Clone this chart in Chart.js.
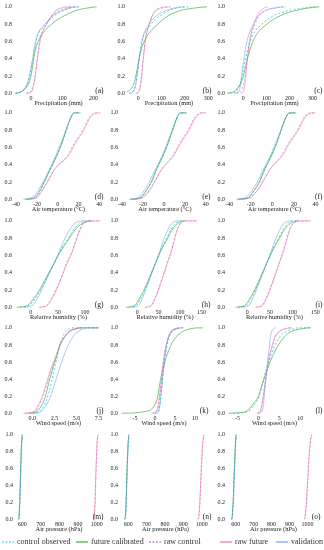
<!DOCTYPE html>
<html>
<head>
<meta charset="utf-8">
<script src="https://cdn.jsdelivr.net/npm/chart.js@4.4.1/dist/chart.umd.min.js"></script>
<style>
  body { margin: 0; background: #fff; }
  #wrap { position: relative; width: 324px; height: 550px; overflow: hidden; font-family: "Liberation Serif", "Times New Roman", serif; }
  #wrap canvas { position: absolute; }
  .leg { position: absolute; top: 536px; font-size: 8px; color: #333; white-space: nowrap; line-height: 12px; }
  .leg svg { vertical-align: middle; margin-right: 3px; }
</style>
</head>
<body>
<div id="wrap"></div>
<script>
const levels = [0, 0.02, 0.1, 0.2, 0.35, 0.5, 0.65, 0.8, 0.9, 0.96, 0.99, 1, 1];

const panelLabels = ["(a)", "(b)", "(c)", "(d)", "(e)", "(f)", "(g)", "(h)", "(i)", "(j)", "(k)", "(l)", "(m)", "(n)", "(o)"];
const xTitles = [
  "Precipitation (mm)", "Precipitation (mm)", "Precipitation (mm)",
  "Air temperature (°C)", "Air temperature (°C)", "Air temperature (°C)",
  "Relative humidity (%)", "Relative humidity (%)", "Relative humidity (%)",
  "Wind speed (m/s)", "Wind speed (m/s)", "Wind speed (m/s)",
  "Air pressure (hPa)", "Air pressure (hPa)", "Air pressure (hPa)"
];
const xTicks = [
  ["0", "100", "200"], ["0", "100", "200", "300"], ["0", "100", "200", "300"],
  ["-40", "-20", "0", "20", "40"], ["-40", "-20", "0", "20", "40"], ["-40", "-20", "0", "20", "40"],
  ["0", "50", "100"], ["0", "50", "100", "150"], ["0", "50", "100", "150"],
  ["0.0", "2.5", "5.0", "7.5"], ["-5", "0", "5", "10"], ["-5", "0", "5", "10"],
  ["600", "700", "800", "900", "1000"], ["600", "700", "800", "900", "1000"], ["600", "700", "800", "900", "1000"]
];
const yTicks = ["0.0", "0.2", "0.4", "0.6", "0.8", "1.0"];
const xMins = [-54, -48, -71, -42, -42, -42, -31, -40, -45, -2.07, -8.75, -7.5, 561, 555, 551];
const xMaxs = [230, 312, 341, 43.5, 44, 46, 133, 170, 165, 8.0, 13.25, 15.2, 1034, 1051, 1070];

const controlObserved = [
  [-48, -30, -12, -4, 4, 11, 20, 48, 75, 105, 130, 150, 160],
  [-40, -24, -11, -5, 2, 10, 22, 55, 95, 135, 170, 200, 215],
  [-60, -32, -15, -6, 6, 18, 36, 80, 132, 200, 270, 305, 315],
  [-30, -23, -17, -13, -7, -1, 4, 8.5, 11, 13, 14.5, 16, 21],
  [-31, -23, -17, -12, -7, -1, 4, 8.5, 11, 13, 14.5, 16, 21],
  [-31, -23, -17, -12, -7, -1, 4, 8.5, 11, 13, 14.5, 16, 21],
  [-20, -3, 8, 18, 30, 42, 54, 69, 79, 87, 95, 100, 108],
  [-20, -3, 8, 18, 30, 42, 54, 69, 79, 87, 95, 100, 108],
  [-20, -3, 8, 18, 30, 42, 54, 69, 79, 87, 95, 100, 108],
  [0, 0.8, 1.4, 1.75, 2.15, 2.45, 2.8, 3.1, 3.45, 3.8, 4.2, 4.5, 7.5],
  [0, 0.8, 1.2, 1.45, 1.8, 2.1, 2.5, 3.0, 3.6, 4.3, 5.5, 6.3, 7],
  [-6, -2.5, -1, 0.2, 1.0, 1.8, 2.8, 4.0, 5.2, 6.8, 8.5, 9.5, 12.5],
  [580, 583, 585, 587, 589, 591, 593, 595, 597, 599, 600, 601, 601],
  [581, 584, 587, 589, 591, 593, 595, 598, 600, 602, 603, 604, 604],
  [577, 580, 583, 586, 589, 591, 594, 597, 599, 601, 602, 602, 602]
];
const futureCalibrated = [
  [-50, -30, -9, 0, 7, 14, 30, 66, 108, 145, 185, 205, 210],
  [-85, -45, -20, -10, 0, 12, 35, 84, 130, 185, 250, 290, 295],
  [-73, -40, -15, 0, 13, 28, 50, 102, 161, 230, 290, 325, 330],
  [-31, -22, -17, -13, -7, -1, 4, 8, 11, 13, 14.5, 16, 22],
  [-32, -22, -17, -12, -7, -1, 4, 8, 11, 13, 14.5, 16, 22],
  [-32, -22, -17, -12, -7, -1, 4, 8, 11, 13, 14.5, 16, 22],
  [-26, -6, 5, 16, 29, 42, 55, 71, 82, 92, 102, 109, 112],
  [-26, -6, 5, 16, 29, 42, 55, 71, 82, 92, 102, 109, 112],
  [-26, -6, 5, 16, 29, 42, 55, 71, 82, 92, 102, 109, 112],
  [-0.5, 0.5, 1.1, 1.5, 1.85, 2.25, 2.7, 3.15, 3.7, 4.2, 5.0, 5.4, 7.5],
  [-8.3, -2.5, 0, 0.7, 1.2, 1.9, 2.8, 4.0, 5.4, 7.0, 9.0, 10.4, 12],
  [-7.1, -3, -1.4, 0, 1.0, 2.0, 3.2, 4.8, 6.3, 8, 10.5, 11.9, 12.5],
  [579, 582, 584, 586, 588, 590, 592, 594, 596, 598, 599, 600, 600],
  [580, 583, 586, 588, 590, 592, 594, 597, 599, 601, 602, 603, 603],
  [576, 579, 582, 585, 588, 590, 593, 596, 598, 600, 601, 602, 602]
];
const rawControl = [
  [-15, 0, 8, 13, 18, 23, 30, 50, 68, 88, 115, 135, 145],
  [-8, 2, 10, 14, 19, 25, 32, 48, 62, 80, 110, 140, 150],
  [-30, -10, 0, 8, 15, 22, 32, 50, 70, 100, 150, 175, 185],
  [-28, -21, -15, -10, -3, 9, 16, 24, 28, 31, 34, 36, 40],
  [-29, -21, -14, -9, -2, 8, 15, 23, 27, 30, 33, 35, 39],
  [-29, -21, -14, -9, -2, 8, 15, 23, 27, 30, 33, 35, 39],
  [15, 29, 38, 46, 56, 65, 76, 84, 90, 95, 101, 105, 126],
  [18, 32, 41, 49, 59, 69, 79, 87, 93, 99, 105, 109, 138],
  [18, 32, 41, 49, 59, 69, 79, 87, 93, 99, 105, 109, 138],
  [-0.8, 0.3, 0.8, 1.25, 1.7, 2.15, 2.65, 3.15, 3.7, 4.2, 4.9, 5.4, 5.6],
  [-0.5, 0.4, 0.9, 1.2, 1.55, 1.85, 2.25, 2.85, 3.5, 4.3, 5.6, 6.6, 7.1],
  [-0.2, 0.5, 0.9, 1.2, 1.65, 2.1, 2.6, 3.4, 4.1, 5.1, 6.6, 7.6, 8],
  [985, 988, 990, 992, 994, 996, 998, 1000, 1002, 1004, 1006, 1007, 1007],
  [979, 984, 988, 991, 994, 997, 1000, 1004, 1007, 1009, 1011, 1012, 1012],
  [982, 987, 991, 995, 999, 1003, 1007, 1012, 1016, 1019, 1022, 1024, 1024]
];
const rawFuture = [
  [-14, 2, 9, 14, 19, 25, 32, 50, 66, 80, 98, 108, 130],
  [-8, 3, 11, 15, 20, 26, 33, 48, 60, 75, 95, 110, 130],
  [-10, 0, 6, 10, 15, 22, 30, 45, 60, 75, 92, 103, 105],
  [-27, -20, -15, -10, -3, 10, 17, 25, 29, 32, 35, 37, 41],
  [-28, -20, -14, -9, -2, 9, 16, 24, 28, 31, 34, 36, 40],
  [-28, -20, -14, -9, -2, 9, 16, 24, 28, 31, 34, 36, 40],
  [17, 30, 39, 47, 57, 66, 77, 85, 91, 96, 102, 106, 128],
  [20, 33, 42, 50, 60, 70, 80, 88, 94, 100, 106, 110, 140],
  [20, 33, 42, 50, 60, 70, 80, 88, 94, 100, 106, 110, 140],
  [-1.0, 0.2, 0.7, 1.13, 1.6, 2.05, 2.6, 3.13, 3.7, 4.2, 4.9, 5.4, 5.6],
  [-0.8, 0.3, 0.8, 1.1, 1.5, 1.8, 2.2, 2.8, 3.4, 4.2, 5.5, 6.5, 7.1],
  [-0.3, 0.4, 0.8, 1.15, 1.6, 2.05, 2.55, 3.4, 4.0, 5.0, 6.5, 7.5, 8],
  [984, 987, 989, 991, 993, 995, 997, 1000, 1002, 1004, 1006, 1007, 1007],
  [978, 983, 987, 990, 993, 996, 999, 1003, 1006, 1009, 1011, 1012, 1012],
  [981, 986, 990, 994, 998, 1002, 1006, 1011, 1015, 1019, 1022, 1024, 1024]
];
const validation = [
  [-50, -30, -13, -5, 3, 10, 18, 45, 70, 100, 125, 140, 150],
  [-36, -20, -10, -5, 2, 10, 20, 45, 80, 120, 160, 185, 200],
  [-40, -20, -12, -8, 0, 8, 20, 44, 66, 95, 140, 168, 175],
  [-33, -25, -19, -14, -8, -2, 3, 8, 11, 13, 14.5, 16, 20],
  [-33, -25, -19, -14, -8, -2, 3, 8, 11, 13, 14.5, 16, 20],
  [-33, -25, -19, -14, -8, -2, 3, 8, 11, 13, 14.5, 16, 20],
  [-13, 3, 12, 20, 31, 42, 53, 63, 72, 79, 86, 91, 100],
  [-13, 3, 12, 20, 31, 42, 53, 63, 72, 79, 86, 91, 100],
  [-13, 3, 12, 20, 31, 42, 53, 63, 72, 79, 86, 91, 100],
  [0.1, 1.0, 1.6, 2.08, 2.55, 3.0, 3.5, 4.07, 4.64, 5.2, 5.9, 6.3, 7.5],
  [0.2, 0.9, 1.25, 1.5, 1.8, 2.1, 2.45, 2.9, 3.4, 4.0, 5.0, 5.8, 6.0],
  [0, 0.8, 1.2, 1.4, 1.65, 2.0, 2.3, 2.7, 2.9, 3.2, 3.7, 4.0, 4.2],
  [580, 583, 585, 587, 589, 591, 593, 595, 597, 599, 600, 601, 601],
  [581, 584, 587, 589, 591, 593, 595, 598, 600, 602, 603, 604, 604],
  [577, 580, 583, 586, 589, 591, 594, 597, 599, 601, 602, 602, 602]
];

// series styling (legend order)
const series = [
  { name: "control observed", values: controlObserved, color: "rgba(23,190,207,0.7)", dash: [2, 2] },
  { name: "future calibrated", values: futureCalibrated, color: "rgba(44,160,44,0.6)", dash: [] },
  { name: "raw control", values: rawControl, color: "rgba(150,50,200,0.4)", dash: [2, 2] },
  { name: "raw future", values: rawFuture, color: "rgba(236,100,160,0.55)", dash: [] },
  { name: "validation", values: validation, color: "rgba(90,150,235,0.5)", dash: [] }
];

// page layout of each panel (pixels)
const plotLefts = [14, 127, 227, 14, 120, 227, 14, 120, 227, 14, 120, 227, 15, 120, 227];
const plotRights = [103, 211, 322, 103, 210, 322, 103, 210, 322, 103, 208, 322, 103, 211, 320];
const rowTop = [6, 112, 220, 327, 434];     // y of the 1.0 tick
const rowBottom = [93, 199, 307, 413, 519]; // y of the 0.0 tick

const FONT = "Liberation Serif";
const TEXT = "#222";
const Y_MIN = -0.02, Y_MAX = 1.05;
const Y_AXIS_W = 16, X_AXIS_H = 14, PAD_TOP = 4, PAD_RIGHT = 6;

const panelLabel = {
  id: "panelLabel",
  afterDraw(chart, args, opts) {
    const { ctx, chartArea, scales } = chart;
    ctx.save();
    ctx.font = "7.5px " + FONT;
    ctx.fillStyle = TEXT;
    ctx.textAlign = "right";
    ctx.textBaseline = "alphabetic";
    ctx.fillText(opts.text, chartArea.right + 0.5, scales.y.getPixelForValue(0) - 0.5);
    ctx.restore();
  }
};

const wrap = document.getElementById("wrap");

panelLabels.forEach((label, i) => {
  const row = Math.floor(i / 3);
  const span = rowBottom[row] - rowTop[row];
  const areaTop = rowTop[row] - (Y_MAX - 1) * span;
  const areaBottom = rowBottom[row] - Y_MIN * span;
  const top = Math.floor(areaTop - PAD_TOP);
  const left = plotLefts[i] - Y_AXIS_W;
  const width = plotRights[i] - plotLefts[i] + Y_AXIS_W + PAD_RIGHT;
  const height = Math.round(areaBottom - top + X_AXIS_H);

  const canvas = document.createElement("canvas");
  canvas.width = width;
  canvas.height = height;
  canvas.style.left = left + "px";
  canvas.style.top = top + "px";
  canvas.style.width = width + "px";
  canvas.style.height = height + "px";
  wrap.appendChild(canvas);

  const tickVals = xTicks[i].map(parseFloat);

  new Chart(canvas.getContext("2d"), {
    type: "line",
    data: {
      datasets: series.map((s, k) => ({
        label: s.name,
        data: s.values[i].map((x, n) => ({ x, y: levels[n] })),
        borderColor: s.color,
        borderDash: s.dash,
        borderWidth: 1,
        pointRadius: 0,
        fill: false,
        order: k === 2 ? 10 : 5 - k, // raw control sits under the others
        cubicInterpolationMode: "monotone"
      }))
    },
    options: {
      responsive: false,
      animation: false,
      devicePixelRatio: 1,
      layout: { padding: { top: areaTop - top, right: PAD_RIGHT, left: 0, bottom: 0 } },
      plugins: {
        legend: { display: false },
        tooltip: { enabled: false },
        panelLabel: { text: label }
      },
      scales: {
        x: {
          type: "linear",
          min: xMins[i],
          max: xMaxs[i],
          grid: { display: false, drawTicks: false },
          border: { display: false },
          afterBuildTicks: sc => { sc.ticks = tickVals.map(v => ({ value: v })); },
          afterFit: sc => { sc.height = X_AXIS_H; },
          ticks: {
            padding: 0,
            maxRotation: 0,
            autoSkip: false,
            color: TEXT,
            font: { family: FONT, size: 6 },
            callback: (v, k) => xTicks[i][k]
          },
          title: {
            display: true,
            text: xTitles[i],
            color: TEXT,
            font: { family: FONT, size: 6.4 },
            padding: { top: 0, bottom: 2 }
          }
        },
        y: {
          type: "linear",
          min: Y_MIN,
          max: Y_MAX,
          grid: { display: false, drawTicks: false },
          border: { display: false },
          afterBuildTicks: sc => { sc.ticks = yTicks.map(v => ({ value: parseFloat(v) })); },
          afterFit: sc => { sc.width = Y_AXIS_W; },
          ticks: {
            padding: 2,
            color: TEXT,
            font: { family: FONT, size: 6 },
            callback: (v, k) => yTicks[k]
          }
        }
      }
    },
    plugins: [panelLabel]
  });
});

// legend row along the bottom
const legendLefts = [2, 76, 149, 220, 276];
series.forEach((s, k) => {
  const item = document.createElement("div");
  item.className = "leg";
  item.style.left = legendLefts[k] + "px";
  const dash = s.dash.length ? `stroke-dasharray="2 1.5"` : "";
  const stroke = s.color.replace(/[\d.]+\)$/, "0.9)");
  item.innerHTML = `<svg width="12" height="4"><line x1="0" y1="2" x2="12" y2="2" stroke="${stroke}" stroke-width="1.2" ${dash}/></svg>${s.name}`;
  wrap.appendChild(item);
});
</script>
</body>
</html>
